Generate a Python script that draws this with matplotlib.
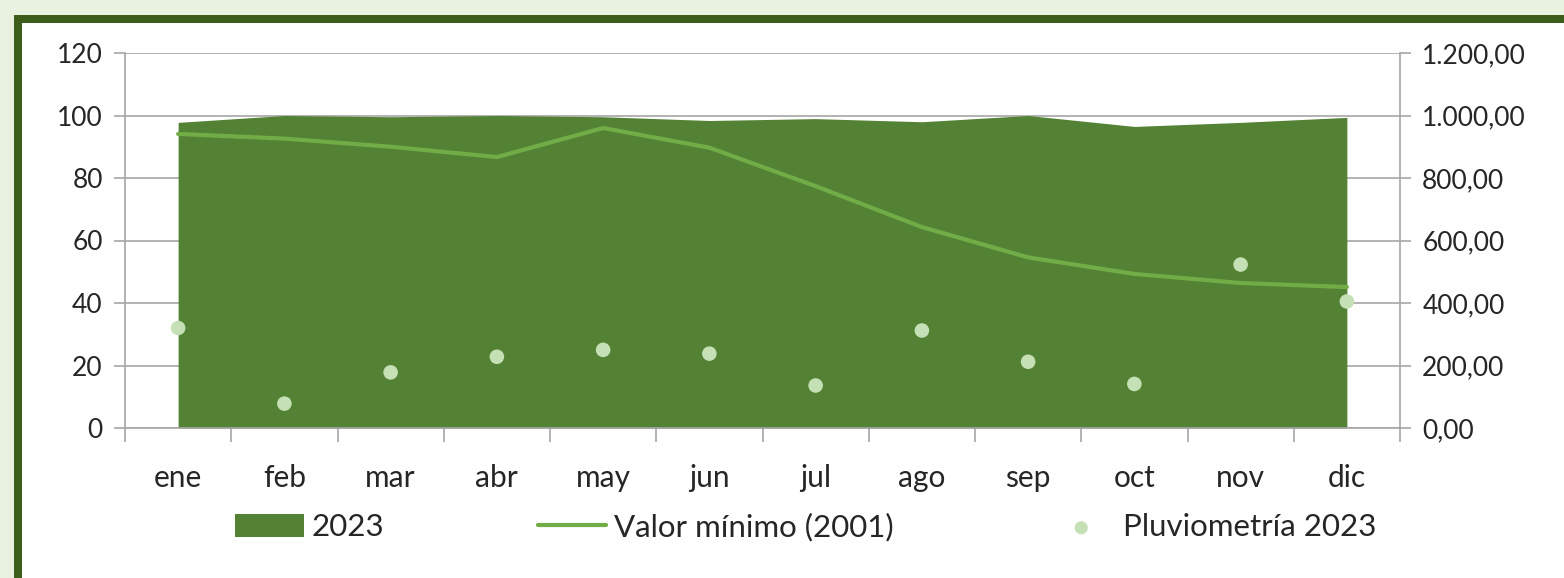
import matplotlib

matplotlib.use("Agg")
import matplotlib.pyplot as plt  # noqa: E402
from matplotlib.patches import Rectangle  # noqa: E402
from matplotlib.ticker import FixedLocator, FuncFormatter  # noqa: E402

MONTHS = ["ene", "feb", "mar", "abr", "may", "jun",
          "jul", "ago", "sep", "oct", "nov", "dic"]
RESERVA_2023 = [97.8, 100.0, 99.6, 100.0, 99.6, 98.4,
                99.0, 98.0, 100.0, 96.5, 97.8, 99.4]
MINIMO_2001 = [94.1, 92.6, 90.0, 86.7, 96.0, 89.7,
               77.4, 64.3, 54.6, 49.3, 46.4, 45.1]
PLUVIO_2023 = [320, 78, 178, 228, 250, 238,
               136, 312, 212, 141, 523, 405]

GREEN_AREA = "#548235"
GREEN_LINE = "#70AD47"
GREEN_DOT = "#C5E0B4"
GRID = "#A6A6A6"
TEXT = "#262626"

plt.rcParams["font.family"] = ["Lato", "DejaVu Sans"]

W, H = 1564, 578
fig = plt.figure(figsize=(W / 100, H / 100), dpi=100)
fig.patch.set_facecolor("white")

# frame: light strip, dark border, white panel
fig.patches.append(Rectangle((0, 0), 1, 1, transform=fig.transFigure,
                             facecolor="#E9F1E0", edgecolor="none", zorder=-3))
fig.patches.append(Rectangle((14 / W, 0), 1, 1 - 15 / H, transform=fig.transFigure,
                             facecolor="#3D5E1A", edgecolor="none", zorder=-2))
fig.patches.append(Rectangle((22 / W, 0), 1, 1 - 23 / H, transform=fig.transFigure,
                             facecolor="white", edgecolor="none", zorder=-1))

ax = fig.add_axes([125 / W, 1 - 428 / H, 1275 / W, 375 / H])
ax.set_facecolor("none")
x = list(range(len(MONTHS)))

area = ax.fill_between(x, RESERVA_2023, 0, color=GREEN_AREA, lw=0, zorder=2,
                       label="2023")
line, = ax.plot(x, MINIMO_2001, color=GREEN_LINE, lw=3, zorder=3,
                solid_capstyle="round", label="Valor mínimo (2001)")

ax.set_xlim(-0.5, len(MONTHS) - 0.5)
ax.set_ylim(0, 120)
ax.set_yticks(range(0, 121, 20))
ax.yaxis.grid(True, color=GRID, lw=1.2, zorder=1)
ax.set_axisbelow(True)
ax.set_xticks(x)
ax.set_xticklabels(MONTHS)
ax.xaxis.set_minor_locator(FixedLocator([i - 0.5 for i in range(len(MONTHS) + 1)]))
ax.tick_params(axis="x", which="major", length=0, pad=26, labelsize=21.5,
               labelcolor=TEXT)
ax.tick_params(axis="x", which="minor", length=10, width=1.2, color=GRID)
ax.tick_params(axis="y", length=8, width=1.2, color=GRID, labelsize=19,
               labelcolor=TEXT, pad=8)
for side in ["top", "right"]:
    ax.spines[side].set_visible(False)
for side in ["left", "bottom"]:
    ax.spines[side].set_color(GRID)
    ax.spines[side].set_linewidth(1.2)

ax2 = ax.twinx()
dots = ax2.scatter(x, PLUVIO_2023, s=110, color=GREEN_DOT, edgecolors="none",
                   zorder=4, label="Pluviometría 2023")
ax2.set_ylim(0, 1200)
ax2.set_yticks(range(0, 1201, 200))


def _es_fmt(v, _pos):
    s = f"{v:,.2f}"
    return s.replace(",", "X").replace(".", ",").replace("X", ".")


ax2.yaxis.set_major_formatter(FuncFormatter(_es_fmt))
ax2.tick_params(axis="y", length=8, width=1.2, color=GRID, labelsize=19,
                labelcolor=TEXT, pad=8)
for side in ["top", "left", "bottom"]:
    ax2.spines[side].set_visible(False)
ax2.spines["right"].set_color(GRID)
ax2.spines["right"].set_linewidth(1.2)

fig.legend([area, line, dots], ["2023", "Valor mínimo (2001)", "Pluviometría 2023"],
           loc="center", bbox_to_anchor=(806 / W, 1 - 527 / H), ncol=3,
           frameon=False, fontsize=22.5, labelcolor=TEXT, handlelength=2.2,
           handleheight=0.75, handletextpad=0.25, columnspacing=4.9,
           markerscale=0.9)

fig.savefig("out.png", dpi=100)
